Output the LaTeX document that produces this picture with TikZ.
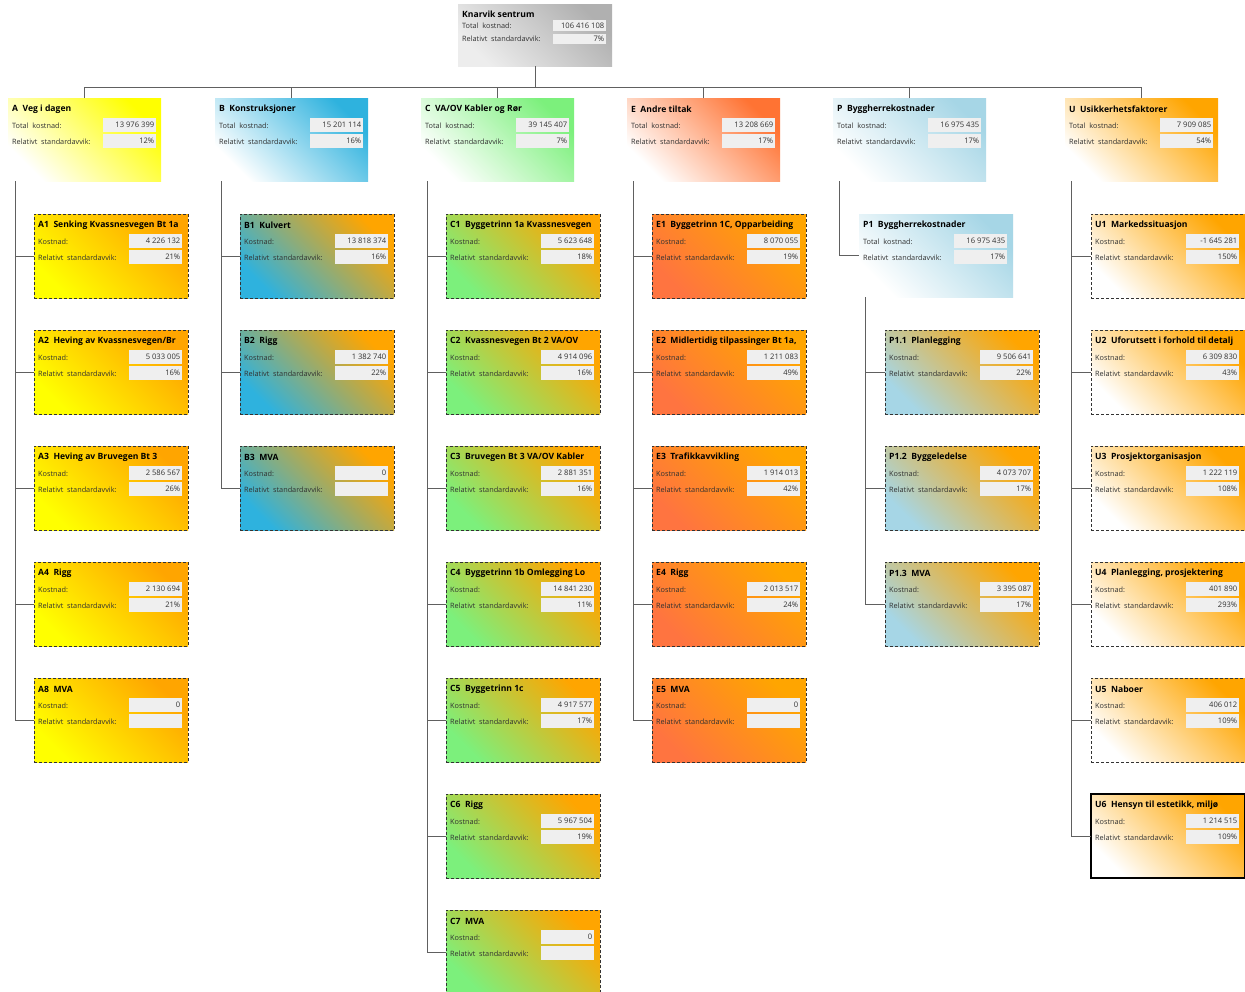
\documentclass[tikz,border=0pt]{standalone}
\usepackage{fontspec}
\setmainfont{Open Sans}
\usetikzlibrary{calc}
\definecolor{org}{HTML}{FFA500}
\definecolor{yel}{HTML}{FFFF00}
\definecolor{blu}{HTML}{2EB2DE}
\definecolor{grn}{HTML}{7CF07C}
\definecolor{ered}{HTML}{FF6A3C}
\definecolor{ered2}{HTML}{FF7440}
\definecolor{pblu}{HTML}{A6D6E6}
\definecolor{vboxc}{HTML}{EFEFEF}
\definecolor{conn}{HTML}{606060}
\definecolor{txt}{HTML}{303030}
\newcommand\fields[5]{%
  \node[ttl] (#1-t) at ([shift={(4,11)}]#1.north west) {#2};
  \node[lbl] (#1-l1) at ([shift={(4,27.5)}]#1.north west) {#3};
  \node[lbl] (#1-l2) at ([shift={(4,43.5)}]#1.north west) {Relativt\ \ standardavvik:};
  \node[valbox] (#1-b1) at ([shift={(95,20)}]#1.north west) {};
  \node[valbox] (#1-b2) at ([shift={(95,36)}]#1.north west) {};
  \node[val] (#1-v1) at ([xshift=-2pt]#1-b1.east) {#4};
  \node[val] (#1-v2) at ([xshift=-2pt]#1-b2.east) {#5};
}
\tikzset{
  x=1pt, y=-1pt,
  grad/.style 2 args={top color=#1, bottom color=#2, shading angle=-45},
  hdr/.style={anchor=north west, minimum width=153pt, minimum height=83pt, inner sep=0pt, outer sep=0pt},
  kid/.style={anchor=north west, minimum width=154pt, minimum height=84pt, inner sep=0pt, outer sep=0pt,
    draw=black!80, line width=0.9pt, dash pattern=on 3pt off 2pt},
  sel/.style={anchor=north west, minimum width=154pt, minimum height=84pt, inner sep=0pt, outer sep=0pt,
    draw=black, line width=2pt},
  ttl/.style={anchor=west, inner sep=0pt, font=\bfseries\fontsize{8.6}{10}\selectfont, text=black},
  lbl/.style={anchor=west, inner sep=0pt, font=\fontsize{7.3}{9}\selectfont, text=txt},
  val/.style={anchor=east, inner sep=0pt, font=\fontsize{7.6}{9}\selectfont, text=txt},
  valbox/.style={anchor=north west, fill=vboxc, minimum width=53pt, minimum height=14pt, inner sep=0pt},
  conn/.style={draw=conn, line width=0.9pt},
}
\begin{document}
\begin{tikzpicture}
\path[use as bounding box, clip] (0,0) rectangle (1245,991);
\fill[white] (0,0) rectangle (1245,991);

% root
\node[anchor=north west, minimum width=154pt, minimum height=62pt, inner sep=0pt, outer sep=0pt, grad={gray!62}{gray!14}] (root) at (458,4) {};
\node[ttl] (root-t) at ([shift={(4,10)}]root.north west) {Knarvik sentrum};
\node[lbl] (root-l1) at ([shift={(4,21.5)}]root.north west) {Total\ \ kostnad:};
\node[lbl] (root-l2) at ([shift={(4,34.5)}]root.north west) {Relativt\ \ standardavvik:};
\node[valbox, minimum height=11pt] (root-b1) at ([shift={(95,16)}]root.north west) {};
\node[valbox, minimum height=10pt] (root-b2) at ([shift={(95,29.5)}]root.north west) {};
\node[val] (root-v1) at ([xshift=-2pt]root-b1.east) {106 416 108};
\node[val] (root-v2) at ([xshift=-2pt]root-b2.east) {7\%};

% headers
\node[hdr, grad={yel}{white}] (A) at (8,98) {};
\node[hdr, grad={blu}{white}] (B) at (215,98) {};
\node[hdr, grad={grn}{white}] (C) at (421,98) {};
\node[hdr, grad={ered!85!org}{white}] (E) at (627,98) {};
\node[hdr, grad={pblu}{white}] (P) at (833,98) {};
\node[hdr, grad={org}{white}] (U) at (1065,98) {};
\fields{A}{A\ \ Veg i dagen}{Total\ \ kostnad:}{13 976 399}{12\%}
\fields{B}{B\ \ Konstruksjoner}{Total\ \ kostnad:}{15 201 114}{16\%}
\fields{C}{C\ \ VA/OV Kabler og Rør}{Total\ \ kostnad:}{39 145 407}{7\%}
\fields{E}{E\ \ Andre tiltak}{Total\ \ kostnad:}{13 208 669}{17\%}
\fields{P}{P\ \ Byggherrekostnader}{Total\ \ kostnad:}{16 975 435}{17\%}
\fields{U}{U\ \ Usikkerhetsfaktorer}{Total\ \ kostnad:}{7 909 085}{54\%}

% A children
\node[kid, grad={org}{yel}] (A1) at (34,214) {};
\node[kid, grad={org}{yel}] (A2) at (34,330) {};
\node[kid, grad={org}{yel}] (A3) at (34,446) {};
\node[kid, grad={org}{yel}] (A4) at (34,562) {};
\node[kid, grad={org}{yel}] (A8) at (34,678) {};
\fields{A1}{A1\ \ Senking Kvassnesvegen Bt 1a}{Kostnad:}{4 226 132}{21\%}
\fields{A2}{A2\ \ Heving av Kvassnesvegen/Br}{Kostnad:}{5 033 005}{16\%}
\fields{A3}{A3\ \ Heving av Bruvegen Bt 3}{Kostnad:}{2 586 567}{26\%}
\fields{A4}{A4\ \ Rigg}{Kostnad:}{2 130 694}{21\%}
\fields{A8}{A8\ \ MVA}{Kostnad:}{0}{}

% B children
\node[kid, grad={org}{blu}] (B1) at (240,214) {};
\node[kid, grad={org}{blu}] (B2) at (240,330) {};
\node[kid, grad={org}{blu}] (B3) at (240,446) {};
\fields{B1}{B1\ \ Kulvert}{Kostnad:}{13 818 374}{16\%}
\fields{B2}{B2\ \ Rigg}{Kostnad:}{1 382 740}{22\%}
\fields{B3}{B3\ \ MVA}{Kostnad:}{0}{}

% C children
\node[kid, grad={org}{grn}] (C1) at (446,214) {};
\node[kid, grad={org}{grn}] (C2) at (446,330) {};
\node[kid, grad={org}{grn}] (C3) at (446,446) {};
\node[kid, grad={org}{grn}] (C4) at (446,562) {};
\node[kid, grad={org}{grn}] (C5) at (446,678) {};
\node[kid, grad={org}{grn}] (C6) at (446,794) {};
\node[kid, grad={org}{grn}] (C7) at (446,910) {};
\fields{C1}{C1\ \ Byggetrinn 1a Kvassnesvegen}{Kostnad:}{5 623 648}{18\%}
\fields{C2}{C2\ \ Kvassnesvegen Bt 2 VA/OV}{Kostnad:}{4 914 096}{16\%}
\fields{C3}{C3\ \ Bruvegen Bt 3 VA/OV Kabler}{Kostnad:}{2 881 351}{16\%}
\fields{C4}{C4\ \ Byggetrinn 1b Omlegging Lo}{Kostnad:}{14 841 230}{11\%}
\fields{C5}{C5\ \ Byggetrinn 1c}{Kostnad:}{4 917 577}{17\%}
\fields{C6}{C6\ \ Rigg}{Kostnad:}{5 967 504}{19\%}
\fields{C7}{C7\ \ MVA}{Kostnad:}{0}{}

% E children
\node[kid, grad={org}{ered2}] (E1) at (652,214) {};
\node[kid, grad={org}{ered2}] (E2) at (652,330) {};
\node[kid, grad={org}{ered2}] (E3) at (652,446) {};
\node[kid, grad={org}{ered2}] (E4) at (652,562) {};
\node[kid, grad={org}{ered2}] (E5) at (652,678) {};
\fields{E1}{E1\ \ Byggetrinn 1C, Opparbeiding}{Kostnad:}{8 070 055}{19\%}
\fields{E2}{E2\ \ Midlertidig tilpassinger Bt 1a,}{Kostnad:}{1 211 083}{49\%}
\fields{E3}{E3\ \ Trafikkavvikling}{Kostnad:}{1 914 013}{42\%}
\fields{E4}{E4\ \ Rigg}{Kostnad:}{2 013 517}{24\%}
\fields{E5}{E5\ \ MVA}{Kostnad:}{0}{}

% P children
\node[hdr, minimum width=154pt, grad={pblu}{white}] (P1) at (859,214) {};
\fields{P1}{P1\ \ Byggherrekostnader}{Total\ \ kostnad:}{16 975 435}{17\%}
\node[kid, grad={org}{pblu}] (P11) at (885,330) {};
\node[kid, grad={org}{pblu}] (P12) at (885,446) {};
\node[kid, grad={org}{pblu}] (P13) at (885,562) {};
\fields{P11}{P1.1\ \ Planlegging}{Kostnad:}{9 506 641}{22\%}
\fields{P12}{P1.2\ \ Byggeledelse}{Kostnad:}{4 073 707}{17\%}
\fields{P13}{P1.3\ \ MVA}{Kostnad:}{3 395 087}{17\%}

% U children
\node[kid, grad={org}{white}] (U1) at (1091,214) {};
\node[kid, grad={org}{white}] (U2) at (1091,330) {};
\node[kid, grad={org}{white}] (U3) at (1091,446) {};
\node[kid, grad={org}{white}] (U4) at (1091,562) {};
\node[kid, grad={org}{white}] (U5) at (1091,678) {};
\node[sel, grad={org}{white}] (U6) at (1091,794) {};
\fields{U1}{U1\ \ Markedssituasjon}{Kostnad:}{-1 645 281}{150\%}
\fields{U2}{U2\ \ Uforutsett i forhold til detalj}{Kostnad:}{6 309 830}{43\%}
\fields{U3}{U3\ \ Prosjektorganisasjon}{Kostnad:}{1 222 119}{108\%}
\fields{U4}{U4\ \ Planlegging, prosjektering}{Kostnad:}{401 890}{293\%}
\fields{U5}{U5\ \ Naboer}{Kostnad:}{406 012}{109\%}
\fields{U6}{U6\ \ Hensyn til estetikk, miljø}{Kostnad:}{1 214 515}{109\%}

% connectors root -> headers
\coordinate (bus) at (537,87);
\draw[conn] (root.south) -- (root.south |- bus);
\draw[conn] (A.north) -- (A.north |- bus) -- (U.north |- bus) -- (U.north);
\foreach \h in {B,C,E,P} \draw[conn] (\h.north) -- (\h.north |- bus);

% connectors header -> children
\foreach \c in {A1,A2,A3,A4,A8} \draw[conn] ([xshift=7pt]A.south west) |- (\c.west);
\foreach \c in {B1,B2,B3} \draw[conn] ([xshift=6pt]B.south west) |- (\c.west);
\foreach \c in {C1,C2,C3,C4,C5,C6,C7} \draw[conn] ([xshift=6pt]C.south west) |- (\c.west);
\foreach \c in {E1,E2,E3,E4,E5} \draw[conn] ([xshift=6pt]E.south west) |- (\c.west);
\draw[conn] ([xshift=6pt]P.south west) |- (P1.west);
\foreach \c in {P11,P12,P13} \draw[conn] ([xshift=6pt]P1.south west) |- (\c.west);
\foreach \c in {U1,U2,U3,U4,U5,U6} \draw[conn] ([xshift=6pt]U.south west) |- (\c.west);
\end{tikzpicture}
\end{document}
